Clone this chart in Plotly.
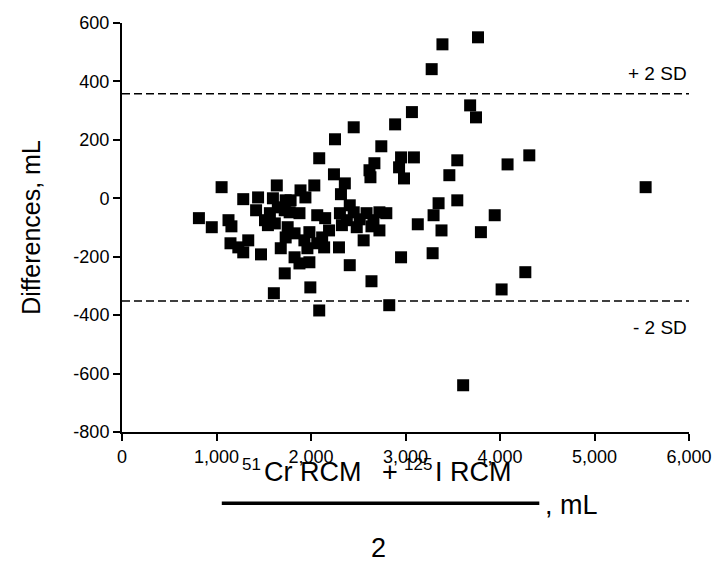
import plotly.graph_objects as go

# Bland-Altman data: mean of two methods (mL) and difference (mL)
mean_ml = [1054, 814, 950, 1127, 1158, 1283, 1148, 1231, 1283, 1336,
           1440, 1597, 1638, 1784, 1889, 1941, 2035, 2243, 2358, 2317,
           2087, 2254, 2452, 2744, 2671, 2619, 2629, 2953, 3089, 2932,
           2984, 2890, 3068, 1419, 1565, 1649, 1722, 1878, 2066, 2150,
           2306, 2379, 2452, 2515, 2588, 2661, 2724, 2797, 2327, 2484,
           2640, 2410, 1544, 1513, 1753, 1826, 1471, 1680, 1732, 1930,
           1983, 2066, 2139, 2118, 2191, 2296, 2557, 2724, 1826, 1878,
           1983, 2410, 2953, 3287, 1722, 1993, 2640, 1607, 2087, 2828,
           3391, 3767, 3277, 3684, 3746, 4310, 4080, 3548, 3464, 5541,
           3350, 3548, 3297, 3944, 3130, 3381, 3798, 4268, 4017, 3610,
           1962, 1732, 1774, 1617]
diff_ml = [38, -68, -99, -75, -96, -3, -154, -168, -185, -144,
           3, 0, 44, -7, 27, 3, 44, 82, 51, 14,
           137, 202, 243, 178, 120, 96, 72, 140, 140, 106,
           68, 253, 295, -41, -51, -31, -41, -51, -58, -68,
           -51, -75, -48, -72, -51, -75, -48, -51, -92, -99,
           -96, -24, -92, -75, -99, -120, -192, -171, -134, -144,
           -116, -154, -168, -134, -110, -168, -144, -110, -202, -223,
           -219, -229, -202, -188, -257, -305, -284, -325, -384, -366,
           527, 551, 442, 318, 277, 147, 116, 130, 79, 38,
           -17, -7, -58, -58, -89, -110, -116, -253, -312, -640,
           -171, -7, -48, -86]

sd_levels = [358, -352]
sd_labels = ["+ 2 SD", "- 2 SD"]

x_ticks = [0, 1000, 2000, 3000, 4000, 5000, 6000]
x_ticktext = ["0", "1,000", "2,000", "3,000", "4,000", "5,000", "6,000"]
y_ticks = [600, 400, 200, 0, -200, -400, -600, -800]
y_ticktext = ["600", "400", "200", "0", "-200", "-400", "-600", "-800"]

# x-axis title pieces: (text, font size, left x in paper, centre y in paper)
title_parts = [("51", 17, 0.2087, -0.079),
               ("Cr RCM", 27, 0.247, -0.098),
               ("+", 27, 0.4557, -0.098),
               ("125", 17, 0.4939, -0.079),
               ("I RCM", 27, 0.5478, -0.098)]

font_family = "Liberation Sans, Arial, sans-serif"

fig = go.Figure()
fig.add_trace(go.Scatter(
    x=mean_ml, y=diff_ml, mode="markers",
    marker=dict(symbol="square", size=12, color="black", line=dict(width=0)),
    showlegend=False, hoverinfo="x+y"))

for lvl, lab, yshift in zip(sd_levels, sd_labels, [20, -26]):
    fig.add_shape(type="line", xref="paper", x0=0, x1=1, yref="y", y0=lvl, y1=lvl,
                  line=dict(color="black", width=1.5, dash="8px,4px"))
    fig.add_annotation(xref="paper", x=1, yref="y", y=lvl, text=lab, showarrow=False,
                       xanchor="right", yanchor="middle", yshift=yshift,
                       font=dict(family=font_family, size=19, color="black"))

fig.update_xaxes(range=[0, 6000], tickvals=x_ticks, ticktext=x_ticktext,
                 showline=True, linecolor="black", linewidth=2,
                 ticks="outside", ticklen=7, tickwidth=1.5, tickcolor="black",
                 showgrid=False, zeroline=False, ticklabeloverflow="allow",
                 tickfont=dict(family=font_family, size=18, color="black"))
fig.update_yaxes(range=[-800, 600], tickvals=y_ticks, ticktext=y_ticktext,
                 showline=True, linecolor="black", linewidth=2,
                 ticks="outside", ticklen=7, tickwidth=1.5, tickcolor="black",
                 showgrid=False, zeroline=False,
                 tickfont=dict(family=font_family, size=18, color="black"),
                 title=dict(text="Differences, mL", standoff=26,
                            font=dict(family=font_family, size=25, color="black")))

# Fraction-style x-axis title
for txt, sz, px, py in title_parts:
    fig.add_annotation(xref="paper", yref="paper", x=px, y=py, text=txt,
                       showarrow=False, xanchor="left", yanchor="middle",
                       font=dict(family=font_family, size=sz, color="black"))
fig.add_shape(type="line", xref="paper", yref="paper", x0=0.176, x1=0.736,
              y0=-0.174, y1=-0.174, line=dict(color="black", width=3.5))
fig.add_annotation(xref="paper", yref="paper", x=0.452, y=-0.284, text="2",
                   showarrow=False, xanchor="center", yanchor="middle",
                   font=dict(family=font_family, size=27, color="black"))
fig.add_annotation(xref="paper", yref="paper", x=0.743, y=-0.178, text=", mL",
                   showarrow=False, xanchor="left", yanchor="middle",
                   font=dict(family=font_family, size=27, color="black"))

fig.update_layout(width=724, height=565,
                  margin=dict(l=122, r=27, t=23, b=133),
                  paper_bgcolor="white", plot_bgcolor="white",
                  font=dict(family=font_family, color="black"))

# remove the default 8px page margin so the figure fills the window exactly
fig.write_html("out.html", config={"displayModeBar": False},
               post_script="document.body.style.margin='0';document.body.style.overflow='hidden';")
